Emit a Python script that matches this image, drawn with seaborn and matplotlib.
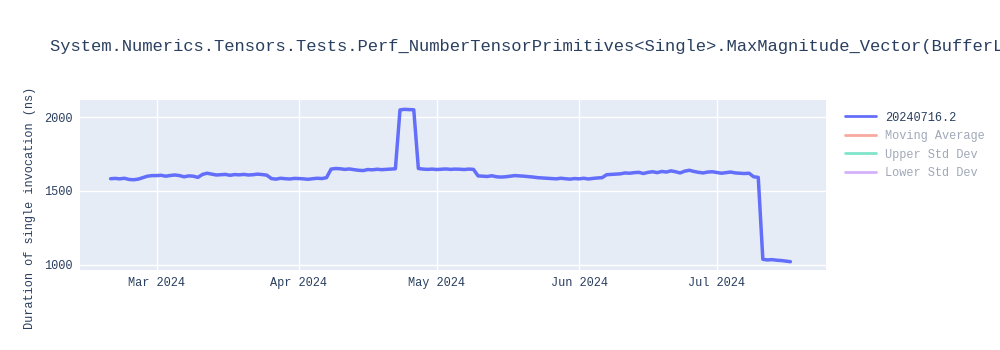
import matplotlib
matplotlib.use("Agg")
import matplotlib.pyplot as plt
import matplotlib.dates as mdates
from matplotlib.lines import Line2D
import numpy as np
import pandas as pd
import seaborn as sns

# ---- data ----
start_date = "2024-02-20"
durations = [
    # Feb 20-29
    1583, 1585, 1582, 1586, 1578, 1576, 1580, 1590, 1600, 1604,
    # Mar 1-10
    1604, 1606, 1600, 1605, 1608, 1604, 1596, 1602, 1600, 1592,
    # Mar 11-20
    1612, 1620, 1614, 1608, 1610, 1612, 1606, 1611, 1609, 1612,
    # Mar 21-25
    1608, 1610, 1614, 1611, 1607,
    # Mar 26-31
    1584, 1580, 1586, 1583, 1581, 1585,
    # Apr 1-7
    1584, 1582, 1579, 1583, 1586, 1584, 1590,
    # Apr 8-22
    1648, 1652, 1650, 1646, 1649, 1644, 1640, 1638, 1645, 1643, 1647, 1644, 1646, 1648, 1650,
    # Apr 23-26
    2048, 2052, 2050, 2049,
    # Apr 27 - May 9
    1652, 1648, 1646, 1648, 1645, 1647, 1649, 1646, 1648, 1647, 1645, 1648, 1646,
    # May 10-19
    1602, 1600, 1598, 1603, 1596, 1594, 1596, 1600, 1604, 1602,
    # May 20-29
    1600, 1597, 1594, 1590, 1588, 1586, 1584, 1582, 1586, 1583,
    # May 30 - Jun 6
    1580, 1584, 1582, 1586, 1581, 1585, 1588, 1590,
    # Jun 7-16
    1610, 1612, 1614, 1616, 1622, 1620, 1624, 1626, 1618, 1626,
    # Jun 17-26
    1630, 1624, 1632, 1628, 1636, 1630, 1622, 1634, 1640, 1632,
    # Jun 27 - Jul 6
    1626, 1622, 1628, 1630, 1625, 1620, 1624, 1628, 1622, 1620,
    # Jul 7-10
    1618, 1620, 1596, 1592,
    # Jul 11-17
    1038, 1034, 1036, 1032, 1030, 1026, 1022,
]
series_name = "20240716.2"
hidden_series = ["Moving Average", "Upper Std Dev", "Lower Std Dev"]
y_ticks = [1000, 1500, 2000]
title = "System.Numerics.Tensors.Tests.Perf_NumberTensorPrimitives<Single>.MaxMagnitude_Vector(BufferLength: 3079)"
y_label = "Duration of single invocation (ns)"

dates = pd.date_range(start_date, periods=len(durations), freq="D")
df = pd.DataFrame({"date": dates, "duration": durations})

# ---- style ----
sns.set_style("darkgrid", {"axes.facecolor": "#E5ECF6", "grid.color": "white"})
plt.rcParams["font.family"] = ["Liberation Mono", "DejaVu Sans Mono"]
text_color = "#2a3f5f"

fig = plt.figure(figsize=(10, 3.5), dpi=100)
ax = fig.add_axes([0.08, 0.2286, 0.746, 0.4857])

sns.lineplot(data=df, x="date", y="duration", ax=ax, color="#636EFA",
             linewidth=2.5, solid_joinstyle="round", solid_capstyle="round",
             legend=False)

ax.set_ylim(966, 2115)
ax.set_xlim(pd.Timestamp("2024-02-13 08:00"), pd.Timestamp("2024-07-24 18:00"))
ax.set_yticks(y_ticks)
ax.xaxis.set_major_locator(mdates.MonthLocator())
ax.xaxis.set_major_formatter(mdates.DateFormatter("%b %Y"))
ax.grid(True, color="white", linewidth=1)
for s in ax.spines.values():
    s.set_visible(False)
ax.tick_params(axis="both", length=0, labelsize=8.6, colors=text_color, pad=5)
ax.set_xlabel("")
ax.set_ylabel("")

fig.text(0.05, 1 - 46 / 350, title, fontsize=12.3, color=text_color,
         ha="left", va="center")
fig.text(0.030, 1 - 208 / 350, y_label, fontsize=8.6, color=text_color,
         rotation=90, ha="center", va="center")

handles = [Line2D([], [], color="#636EFA", lw=2),
           Line2D([], [], color="#F7AA9D", lw=2),
           Line2D([], [], color="#80E5CB", lw=2),
           Line2D([], [], color="#D5B1FC", lw=2)]
labels = [series_name] + hidden_series
leg = fig.legend(handles, labels, loc="upper left", bbox_to_anchor=(0.840, 0.695),
                 frameon=False, fontsize=8.6, handlelength=2.6, handletextpad=0.8,
                 labelspacing=0.55, borderaxespad=0)
for i, t in enumerate(leg.get_texts()):
    t.set_color(text_color if i == 0 else "#A0A8B8")

fig.savefig("out.png", dpi=100, facecolor="white")
